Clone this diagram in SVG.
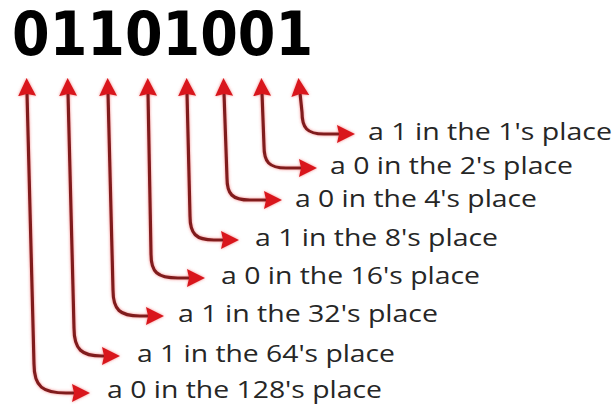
<svg xmlns="http://www.w3.org/2000/svg" width="616" height="404" viewBox="0 0 616 404">
<style>
.digits{font-family:"DejaVu Sans",sans-serif;font-weight:bold;font-size:60px;fill:#000}
.lbl{font-family:"Open Sans","Noto Sans",sans-serif;font-size:24px;fill:#262626}
.arr{fill:none;stroke:#801a1f;stroke-width:3.2;marker-start:url(#head);marker-end:url(#head)}
</style>
<defs>
<marker id="head" markerUnits="userSpaceOnUse" viewBox="0 -10 20 20" refX="3" refY="0" markerWidth="20" markerHeight="20" orient="auto-start-reverse">
<path d="M0,-9 L18,0 L0,9 L2,0 Z" fill="#d9141d"/>
</marker>
<filter id="glow" x="-20%" y="-5%" width="140%" height="110%">
<feGaussianBlur in="SourceAlpha" stdDeviation="1.8" result="b"/>
<feFlood flood-color="#f05a5a" flood-opacity="0.7"/>
<feComposite in2="b" operator="in"/>
<feMerge><feMergeNode/><feMergeNode in="SourceGraphic"/></feMerge>
</filter>
</defs>
<rect width="616" height="404" fill="#fff"/>
<g id="number"><text class="digits" x="12" y="55" textLength="301" lengthAdjust="spacingAndGlyphs">01101001</text></g>
<g id="connectors" filter="url(#glow)">
<path class="arr" d="M300,93 L302,112 C302,128 307,134 324,134 L340,134"/>
<path class="arr" d="M262,93 L264,146 C264,162 269,168 286,168 L302,168"/>
<path class="arr" d="M224,93 L227,178 C227,194 232,200 250,200 L267,200"/>
<path class="arr" d="M187,93 L190,216 C190,234 196,240 214,240 L224,240"/>
<path class="arr" d="M148,93 L151,254 C151,272 157,278 178,278 L190,278"/>
<path class="arr" d="M108,93 L113,290 C113,310 120,316 140,316 L149,316"/>
<path class="arr" d="M68,93 L74,328 C74,350 82,356 102,356 L105,356"/>
<path class="arr" d="M27,93 L34,364 C34,387 43,393 66,393 L75,393"/>
</g>
<g id="l1"><text class="lbl" x="368" y="140" textLength="244" lengthAdjust="spacingAndGlyphs">a 1 in the 1's place</text></g>
<g id="l2"><text class="lbl" x="330" y="174" textLength="243" lengthAdjust="spacingAndGlyphs">a 0 in the 2's place</text></g>
<g id="l4"><text class="lbl" x="295" y="207" textLength="242" lengthAdjust="spacingAndGlyphs">a 0 in the 4's place</text></g>
<g id="l8"><text class="lbl" x="255" y="246" textLength="243" lengthAdjust="spacingAndGlyphs">a 1 in the 8's place</text></g>
<g id="l16"><text class="lbl" x="221" y="284" textLength="259" lengthAdjust="spacingAndGlyphs">a 0 in the 16's place</text></g>
<g id="l32"><text class="lbl" x="178" y="322" textLength="260" lengthAdjust="spacingAndGlyphs">a 1 in the 32's place</text></g>
<g id="l64"><text class="lbl" x="137" y="362" textLength="258" lengthAdjust="spacingAndGlyphs">a 1 in the 64's place</text></g>
<g id="l128"><text class="lbl" x="107" y="398" textLength="275" lengthAdjust="spacingAndGlyphs">a 0 in the 128's place</text></g>
</svg>
